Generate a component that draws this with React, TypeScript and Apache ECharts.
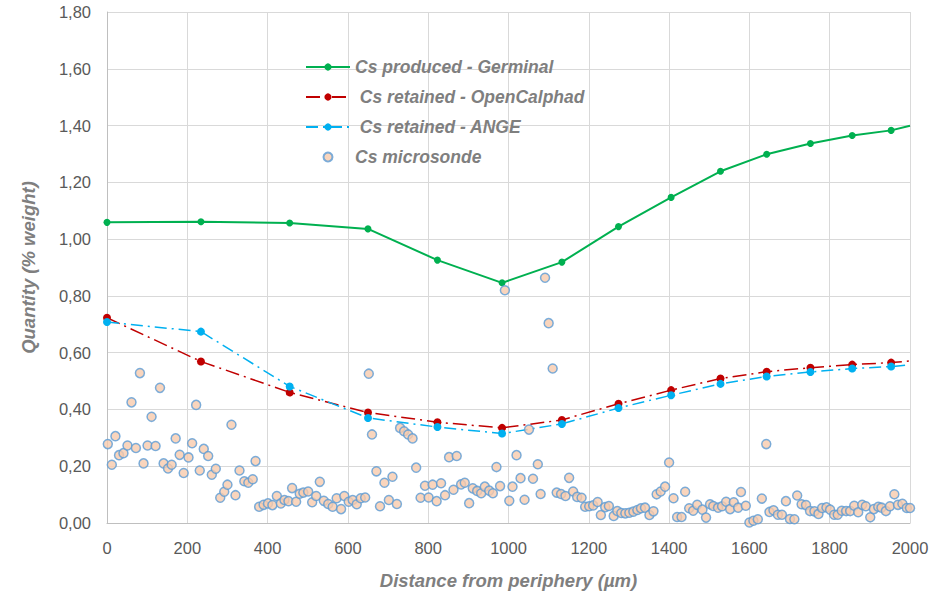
import React, { useEffect, useRef } from "react";
import * as echarts from "echarts";

const lineX = [0, 234, 455, 650, 823, 984, 1133, 1274, 1405, 1528, 1643, 1752, 1856, 1953, 2000];
const germinal = [1.059, 1.061, 1.057, 1.036, 0.926, 0.846, 0.919, 1.044, 1.147, 1.239, 1.299, 1.337, 1.365, 1.383, 1.399];
const openCalphad = [0.723, 0.569, 0.46, 0.389, 0.355, 0.335, 0.363, 0.42, 0.468, 0.509, 0.533, 0.547, 0.558, 0.565, 0.571];
const ange = [0.708, 0.674, 0.481, 0.37, 0.338, 0.315, 0.349, 0.405, 0.45, 0.49, 0.516, 0.532, 0.544, 0.551, 0.557];

const probeX = [
  2, 12, 21, 30, 41, 51, 61, 72, 82, 91, 101, 111, 121, 132, 141, 152, 161, 171, 181, 191,
  203, 212, 222, 231, 241, 252, 261, 271, 282, 292, 300, 310, 320, 330, 342, 352, 363, 370, 379, 390,
  401, 412, 423, 433, 442, 452, 461, 471, 480, 489, 501, 511, 521, 530, 540, 551, 562, 572, 583, 591,
  602, 612, 622, 632, 643, 652, 660, 671, 680, 691, 702, 711, 722, 730, 740, 750, 761, 770, 781, 792,
  801, 811, 821, 832, 842, 852, 863, 871, 882, 891, 902, 911, 922, 932, 941, 952, 961, 970, 979, 991,
  1002, 1010, 1020, 1030, 1040, 1051, 1061, 1073, 1080, 1091, 1100, 1110, 1120, 1131, 1142, 1151, 1161, 1171, 1182, 1191,
  1201, 1211, 1222, 1230, 1241, 1250, 1262, 1271, 1281, 1291, 1301, 1311, 1321, 1330, 1340, 1351, 1361, 1369, 1379, 1390,
  1400, 1411, 1420, 1431, 1440, 1450, 1460, 1470, 1483, 1492, 1502, 1510, 1522, 1532, 1542, 1552, 1561, 1572, 1579, 1591,
  1600, 1610, 1621, 1631, 1642, 1650, 1660, 1671, 1681, 1691, 1701, 1712, 1719, 1730, 1741, 1751, 1762, 1772, 1781, 1792,
  1801, 1811, 1820, 1830, 1841, 1851, 1861, 1871, 1881, 1890, 1901, 1910, 1921, 1929, 1940, 1950, 1961, 1970, 1981, 1992,
  2000,
];
const probeY = [
  0.278, 0.205, 0.306, 0.239, 0.246, 0.273, 0.425, 0.264, 0.528, 0.21, 0.273, 0.374, 0.271, 0.476, 0.21, 0.192, 0.205, 0.298, 0.24, 0.176,
  0.231, 0.281, 0.416, 0.185, 0.261, 0.236, 0.17, 0.191, 0.089, 0.11, 0.135, 0.346, 0.098, 0.185, 0.147, 0.142, 0.154, 0.218, 0.057, 0.064,
  0.069, 0.063, 0.095, 0.069, 0.081, 0.077, 0.123, 0.075, 0.103, 0.107, 0.111, 0.073, 0.095, 0.145, 0.078, 0.067, 0.057, 0.087, 0.049, 0.095,
  0.075, 0.081, 0.066, 0.087, 0.09, 0.526, 0.312, 0.182, 0.059, 0.142, 0.081, 0.163, 0.067, 0.335, 0.323, 0.312, 0.298, 0.195, 0.089, 0.131,
  0.09, 0.135, 0.077, 0.14, 0.098, 0.232, 0.117, 0.236, 0.136, 0.142, 0.07, 0.122, 0.113, 0.105, 0.128, 0.114, 0.105, 0.197, 0.13, 0.82,
  0.078, 0.128, 0.239, 0.158, 0.082, 0.329, 0.156, 0.207, 0.102, 0.864, 0.704, 0.544, 0.107, 0.102, 0.095, 0.159, 0.111, 0.092, 0.089, 0.057,
  0.059, 0.062, 0.074, 0.028, 0.056, 0.06, 0.025, 0.042, 0.035, 0.034, 0.036, 0.04, 0.046, 0.052, 0.054, 0.028, 0.041, 0.101, 0.111, 0.128,
  0.213, 0.087, 0.021, 0.021, 0.11, 0.052, 0.043, 0.064, 0.047, 0.019, 0.066, 0.06, 0.054, 0.059, 0.075, 0.049, 0.073, 0.054, 0.109, 0.061,
  0.002, 0.008, 0.013, 0.086, 0.278, 0.039, 0.045, 0.029, 0.029, 0.077, 0.014, 0.013, 0.097, 0.066, 0.063, 0.042, 0.041, 0.032, 0.053, 0.055,
  0.047, 0.029, 0.029, 0.043, 0.042, 0.042, 0.061, 0.038, 0.064, 0.059, 0.02, 0.049, 0.057, 0.054, 0.042, 0.059, 0.101, 0.064, 0.068, 0.053,
  0.053,
];

const seriesNames = [
  "Cs produced - Germinal",
  " Cs retained - OpenCalphad",
  " Cs retained - ANGE",
  "Cs microsonde",
];

function lineData(values: number[]) {
  return values.map((v, i) =>
    i === values.length - 1 ? { value: [lineX[i], v], symbol: "none" } : { value: [lineX[i], v] }
  );
}

export default function App() {
  const ref = useRef<HTMLDivElement>(null);
  useEffect(() => {
    if (!ref.current) return;
    const chart = echarts.init(ref.current, undefined, { renderer: "svg" });
    const labelFont = "'Liberation Sans', Arial, sans-serif";
    const titleStyle = {
      fontFamily: labelFont,
      fontSize: 18.5,
      fontWeight: "bold",
      fontStyle: "italic",
      color: "#7f7f7f",
    };
    chart.setOption({
      animation: false,
      backgroundColor: "#ffffff",
      grid: { left: 107, right: 32, top: 12, bottom: 71, containLabel: false },
      legend: {
        orient: "vertical",
        left: 305,
        top: 57,
        padding: 0,
        itemWidth: 44,
        itemHeight: 9,
        itemGap: 10,
        data: seriesNames,
        textStyle: {
          fontFamily: labelFont,
          fontSize: 17.5,
          fontWeight: "bold",
          fontStyle: "italic",
          color: "#7f7f7f",
          lineHeight: 20,
        },
      },
      xAxis: {
        type: "value",
        min: 0,
        max: 2000,
        interval: 200,
        name: "Distance from periphery (µm)",
        nameLocation: "middle",
        nameGap: 48,
        nameTextStyle: titleStyle,
        axisLine: { show: true, lineStyle: { color: "#bfbfbf", width: 1 } },
        axisTick: { show: false },
        axisLabel: {
          margin: 16,
          fontFamily: labelFont,
          fontSize: 16.5,
          color: "#595959",
          formatter: (v: number) => String(v),
        },
        splitLine: { show: true, lineStyle: { color: "#d9d9d9", width: 1 } },
      },
      yAxis: {
        type: "value",
        min: 0,
        max: 1.8,
        interval: 0.2,
        name: "Quantity (% weight)",
        nameLocation: "middle",
        nameGap: 69,
        nameTextStyle: titleStyle,
        axisLine: { show: true, lineStyle: { color: "#bfbfbf", width: 1 } },
        axisTick: { show: false },
        axisLabel: {
          margin: 16,
          fontFamily: labelFont,
          fontSize: 16.5,
          color: "#595959",
          formatter: (v: number) => v.toFixed(2).replace(".", ","),
        },
        splitLine: { show: true, lineStyle: { color: "#d9d9d9", width: 1 } },
      },
      series: [
        {
          name: seriesNames[0],
          type: "line",
          data: lineData(germinal),
          symbol: "circle",
          symbolSize: 7,
          lineStyle: { color: "#00b050", width: 2 },
          itemStyle: { color: "#00b050" },
          z: 2,
        },
        {
          name: seriesNames[1],
          type: "line",
          data: lineData(openCalphad),
          symbol: "circle",
          symbolSize: 8,
          lineStyle: { color: "#c00000", width: 1.5, type: [14, 5, 2, 5] },
          itemStyle: { color: "#c00000" },
          z: 3,
        },
        {
          name: seriesNames[2],
          type: "line",
          data: lineData(ange),
          symbol: "circle",
          symbolSize: 8,
          lineStyle: { color: "#00b0f0", width: 1.5, type: [12, 5, 2, 5] },
          itemStyle: { color: "#00b0f0" },
          z: 4,
        },
        {
          name: seriesNames[3],
          type: "scatter",
          data: probeX.map((x, i) => [x, probeY[i]]),
          symbol: "circle",
          symbolSize: 9,
          itemStyle: { color: "#f8cbad", borderColor: "#5b9bd5", borderWidth: 1.5 },
          z: 5,
        },
      ],
    });
    return () => chart.dispose();
  }, []);
  return (
    <div
      ref={ref}
      style={{ position: "absolute", left: 0, top: 0, width: 942, height: 595 }}
    />
  );
}
